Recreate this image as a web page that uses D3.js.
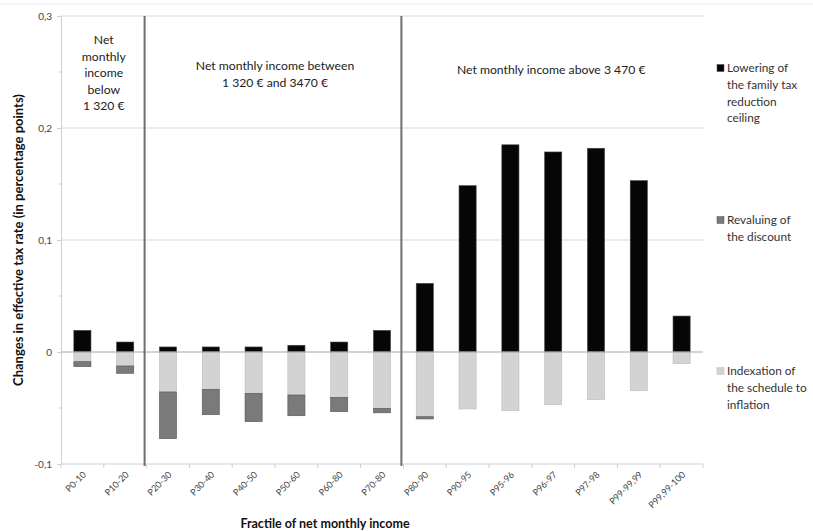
<!DOCTYPE html>
<html><head><meta charset="utf-8">
<script src="https://cdn.jsdelivr.net/npm/d3@7"></script>
<style>body{margin:0;background:#fff}svg{display:block;font-family:Lato,"Open Sans",sans-serif}</style>
</head><body><svg id="c" width="813" height="531"></svg>
<script>
const categories = ["P0-10","P10-20","P20-30","P30-40","P40-50","P50-60","P60-80","P70-80","P80-90","P90-95","P95-96","P96-97","P97-98","P99-99,99","P99,99-100"];
const ceiling    = [0.0193,0.0089,0.0045,0.0045,0.0045,0.006,0.0089,0.0193,0.0613,0.1485,0.185,0.1786,0.1819,0.153,0.0321];
const discount   = [-0.0044,-0.0065,-0.0417,-0.0227,-0.0253,-0.0185,-0.0128,-0.004,-0.002,0,0,0,0,0,0];
const indexation = [-0.0087,-0.0125,-0.0357,-0.0333,-0.0369,-0.0384,-0.0405,-0.0503,-0.0578,-0.0509,-0.0524,-0.047,-0.0426,-0.0346,-0.0104];
const seriesNames = ["Lowering of the family tax reduction ceiling","Revaluing of the discount","Indexation of the schedule to inflation"];
const legendLines = [["Lowering of","the family tax","reduction","ceiling"],["Revaluing of","the discount"],["Indexation of","the schedule to","inflation"]];
const yTicks = [-0.1,0,0.1,0.2,0.3];
const yTickLabels = ["-0,1","0","0,1","0,2","0,3"];
const groups = [
  {from:0,to:2,lines:["Net","monthly","income","below","1 320 €"]},
  {from:2,to:8,lines:["Net monthly income between","1 320 € and 3470 €"]},
  {from:8,to:15,lines:["Net monthly income above 3 470 €"]}
];

const svg = d3.select("#c");
const L=61, R=703, T=16, B=464;
const x = d3.scaleBand().domain(categories).range([L,R]).paddingInner(0.6).paddingOuter(0.3);
const y = d3.scaleLinear().domain([-0.1,0.3]).range([B,T]);
const step = x.step();
const bound = i => L + i*step;

// faint chart border at top
svg.append("line").attr("x1",0).attr("x2",813).attr("y1",4).attr("y2",4).attr("stroke","#eeeeee");

// gridlines
svg.append("g").selectAll("line").data([0.1,0.2,0.3]).join("line")
  .attr("x1",L).attr("x2",R).attr("y1",d=>y(d)).attr("y2",d=>y(d)).attr("stroke","#d9d9d9").attr("stroke-width",1);

// y axis
const yAxis = d3.axisLeft(y).tickValues(yTicks).tickFormat((d,i)=>yTickLabels[i]).tickSize(4).tickPadding(5);
const gy = svg.append("g").attr("transform",`translate(${L},0)`).call(yAxis);
gy.select(".domain").attr("stroke","#d0d0d0");
gy.selectAll(".tick line").attr("stroke","#d0d0d0");
gy.selectAll(".tick text").attr("fill","#444").style("font-size","10px").style("font-family","Lato");
// minor ticks
svg.append("g").selectAll("line").data([-0.05,0.05,0.15,0.25]).join("line")
  .attr("x1",L-2).attr("x2",L+2).attr("y1",d=>y(d)).attr("y2",d=>y(d)).attr("stroke","#d0d0d0");

// stacked bars
const rows = categories.map((c,i)=>({cat:c,ceiling:ceiling[i],indexation:indexation[i],discount:discount[i]}));
const keys = ["ceiling","indexation","discount"];
const colors = {ceiling:"#060606",discount:"#7a7a7a",indexation:"#d3d3d3"};
const strokes = {ceiling:"#444",discount:"#555",indexation:"#bdbdbd"};
const stacked = d3.stack().keys(keys).offset(d3.stackOffsetDiverging)(rows);
svg.append("g").selectAll("g").data(stacked).join("g")
  .attr("fill",d=>colors[d.key]).attr("stroke",d=>strokes[d.key]).attr("stroke-width",0.6)
  .selectAll("rect").data(d=>d.filter(p=>p[1]-p[0]!==0)).join("rect")
  .attr("x",d=>x(d.data.cat)).attr("width",x.bandwidth())
  .attr("y",d=>y(Math.max(d[0],d[1]))).attr("height",d=>Math.abs(y(d[0])-y(d[1])));

// zero line
svg.append("line").attr("x1",L).attr("x2",R).attr("y1",y(0)).attr("y2",y(0)).attr("stroke","#a6a6a6");

// x axis
svg.append("line").attr("x1",L).attr("x2",R).attr("y1",B).attr("y2",B).attr("stroke","#d0d0d0");
svg.append("g").selectAll("line").data(d3.range(categories.length+1)).join("line")
  .attr("x1",i=>bound(i)).attr("x2",i=>bound(i)).attr("y1",B).attr("y2",B+4).attr("stroke","#d0d0d0");
svg.append("g").selectAll("text").data(categories).join("text")
  .attr("transform",d=>`translate(${x(d)+x.bandwidth()/2+2},${B+9}) rotate(-45)`)
  .attr("text-anchor","end").attr("dy","0.35em")
  .style("font-size","9px").attr("fill","#444").text(d=>d);

// group separators
svg.append("g").selectAll("line").data([2,8]).join("line")
  .attr("x1",i=>bound(i)-2).attr("x2",i=>bound(i)-2).attr("y1",T).attr("y2",B+2)
  .attr("stroke","#6e6e6e").attr("stroke-width",2);

// group labels
groups.forEach(g=>{
  const cx = g.from===8 ? (bound(g.from)-4+R)/2 : (bound(g.from)+bound(g.to))/2;
  const n = g.lines.length;
  const yc = n===5 ? 73 : (n===2 ? 74 : 70);
  const t = svg.append("text").attr("text-anchor","middle").style("font-size","12.2px").attr("fill","#222");
  g.lines.forEach((ln,k)=>{
    t.append("tspan").attr("x",cx).attr("y",yc+(k-(n-1)/2)*16.5).attr("dy","0.35em").text(ln);
  });
});

// axis titles
svg.append("text").attr("transform",`translate(18,${(T+B)/2}) rotate(-90)`).attr("text-anchor","middle")
  .attr("dy","0.35em").style("font-size","13px").style("font-weight","bold").attr("fill","#111")
  .text("Changes in effective tax rate (in percentage points)");
svg.append("text").attr("x",325).attr("y",524).attr("text-anchor","middle").attr("dy","0.35em")
  .style("font-size","12.5px").style("font-weight","bold").attr("fill","#111")
  .text("Fractile of net monthly income");

// legend
const legY = [68,220,371];
const legKeys = ["ceiling","discount","indexation"];
legKeys.forEach((k,i)=>{
  const g = svg.append("g");
  g.append("rect").attr("x",717).attr("y",legY[i]-3.5).attr("width",7).attr("height",7).attr("fill",colors[k]).attr("stroke",strokes[k]).attr("stroke-width",0.5);
  const t = g.append("text").style("font-size","11.8px").attr("fill","#333");
  t.append("title").text(seriesNames[i]);
  legendLines[i].forEach((ln,j)=>{
    t.append("tspan").attr("x",727).attr("y",legY[i]+j*16.7).attr("dy","0.35em").text(ln);
  });
});
</script></body></html>
